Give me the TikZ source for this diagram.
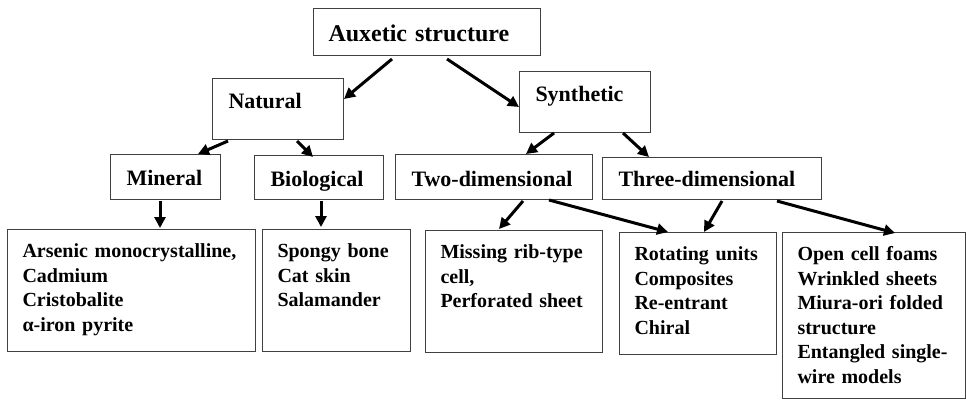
\documentclass[tikz,border=0pt]{standalone}
\usepackage{fontspec}
\setmainfont{Liberation Serif}
\usetikzlibrary{arrows.meta,calc}
\exhyphenpenalty=10000

\begin{document}
\begin{tikzpicture}[x=1pt, y=-1pt,
  box/.style={draw=black!75, line width=1pt, anchor=north west, inner ysep=0pt, align=left},
  top/.style={box, inner xsep=15pt, font=\fontsize{24}{28}\selectfont\bfseries},
  mid/.style={box, inner xsep=16pt, font=\fontsize{22}{26}\selectfont\bfseries},
  leaf/.style={box, inner xsep=15pt, text height=28pt, text depth=94pt, font=\fontsize{20}{24.6}\selectfont\bfseries},
  arr/.style={-{Triangle[length=11pt,width=11pt]}, line width=3pt}]

  \useasboundingbox (0,0) rectangle (966,400);

  % Define nodes
  \node[top, text width=197pt, text height=33pt, text depth=14pt] (root) at (313,8) {Auxetic structure};
  \node[mid, text width=99pt, text height=30pt, text depth=31pt] (nat) at (212,78) {Natural};
  \node[mid, text width=99pt, text height=30pt, text depth=31pt] (syn) at (519,71) {Synthetic};
  \node[mid, text width=78pt, text height=31pt, text depth=14pt] (min) at (110,154) {Mineral};
  \node[mid, text width=97pt, text height=31pt, text depth=13pt] (bio) at (254,155) {Biological};
  \node[mid, text width=165pt, text height=32pt, text depth=13pt] (two) at (395,154) {Two-dimensional};
  \node[mid, text width=187pt, text height=29pt, text depth=13pt] (thr) at (602,157) {Three-dimensional};

  \node[leaf, text width=218pt] (minL) at (7,229) {Arsenic monocrystalline,\\Cadmium\\Cristobalite\\α-iron pyrite};
  \node[leaf, text width=118pt] (bioL) at (262,229) {Spongy bone\\Cat skin\\Salamander};
  \node[leaf, text width=147pt] (twoL) at (425,230) {Missing rib-type\\cell,\\Perforated sheet};
  \node[leaf, text width=127pt] (rotL) at (619,232) {Rotating units\\Composites\\Re-entrant\\Chiral};
  \node[leaf, text width=153pt, text depth=138pt] (thrL) at (782,232) {Open cell foams\\Wrinkled sheets\\Miura-ori folded\\structure\\Entangled single-\\wire models};

  % Draw arrows between nodes
  \draw[arr] ($(root.south west)+(79,3)$) to ($(nat.north east)+(0,21)$);
  \draw[arr] ($(root.south west)+(134,3)$) to ($(syn.north west)+(0,36)$);
  \draw[arr] ($(nat.south west)+(16,1)$) to ($(min.north west)+(88,0)$);
  \draw[arr] ($(nat.south west)+(85,1)$) to ($(bio.north west)+(59,2)$);
  \draw[arr] ($(syn.south west)+(35,0)$) to ($(two.north west)+(131,0)$);
  \draw[arr] ($(syn.south west)+(104,0)$) to ($(thr.north west)+(47,0)$);
  \draw[arr] ($(min.south west)+(50,1)$) to ($(minL.north west)+(153,-1)$);
  \draw[arr] ($(bio.south west)+(67,1)$) to ($(bioL.north west)+(59,-2)$);
  \draw[arr] ($(two.south west)+(128,1)$) to ($(twoL.north west)+(74,-1)$);
  \draw[arr] ($(two.south west)+(154,0)$) to ($(rotL.north west)+(49,0)$);
  \draw[arr] ($(thr.south west)+(120,1)$) to ($(rotL.north west)+(85,0)$);
  \draw[arr] ($(thr.south west)+(175,1)$) to ($(thrL.north west)+(113,1)$);
\end{tikzpicture}
\end{document}
